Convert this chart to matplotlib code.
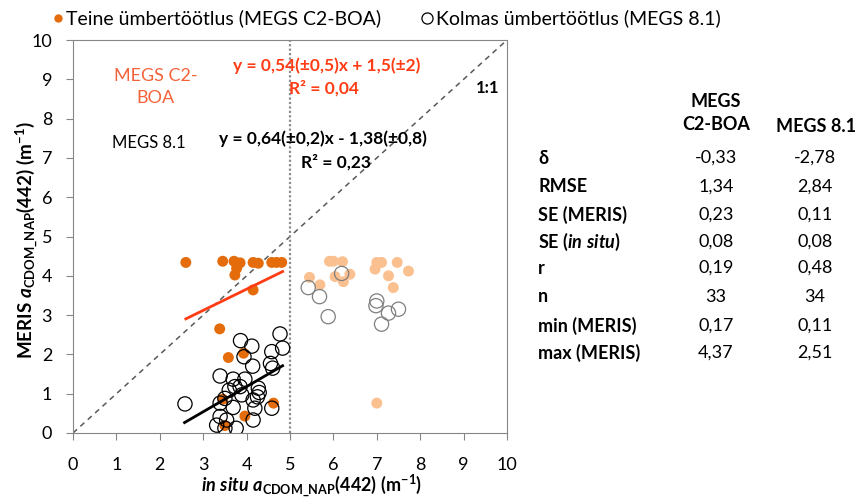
import matplotlib
matplotlib.use("Agg")
import matplotlib.pyplot as plt
from matplotlib.lines import Line2D

# MEGS C2-BOA (teine ümbertöötlus), in situ < 5
c2_x = [2.60, 3.45, 3.71, 3.77, 3.73, 3.85, 4.15, 4.27, 4.58, 4.69, 4.81, 4.15,
        3.38, 3.58, 3.93, 3.45, 4.62, 3.96, 3.50]
c2_y = [4.34, 4.37, 4.37, 4.19, 4.02, 4.33, 4.34, 4.32, 4.34, 4.34, 4.34, 3.64,
        2.65, 1.92, 2.03, 0.86, 0.76, 0.43, 0.19]
# MEGS C2-BOA, in situ > 5
c2b_x = [5.91, 6.00, 6.21, 5.45, 5.69, 6.04, 6.38, 6.23, 7.00, 7.11, 6.96, 7.47,
         7.73, 7.27, 7.38, 7.00]
c2b_y = [4.37, 4.37, 4.36, 3.96, 3.77, 3.98, 4.04, 3.85, 4.34, 4.34, 4.17, 4.34,
         4.12, 4.00, 3.70, 0.76]
# MEGS 8.1 (kolmas ümbertöötlus), in situ < 5
m81_x = [2.58, 3.86, 4.12, 3.94, 4.14, 3.39, 3.69, 3.96, 3.85, 3.73, 3.60, 3.50,
         3.39, 3.69, 3.89, 4.15, 4.27, 4.29, 4.25, 4.19, 4.15, 4.58, 4.58, 4.77,
         4.83, 4.55, 4.60, 3.39, 3.31, 3.50, 3.76, 3.54]
m81_y = [0.74, 2.35, 2.21, 1.94, 1.70, 1.45, 1.37, 1.37, 1.18, 1.18, 1.09, 0.88,
         0.76, 0.65, 0.97, 0.84, 1.14, 1.03, 0.92, 0.63, 0.33, 0.63, 2.07, 2.52,
         2.16, 1.77, 1.65, 0.42, 0.20, 0.12, 0.12, 0.33]
# MEGS 8.1, in situ > 5
m81b_x = [6.19, 5.42, 5.68, 5.88, 7.00, 6.98, 7.27, 7.50, 7.11]
m81b_y = [4.06, 3.70, 3.47, 2.96, 3.36, 3.24, 3.05, 3.15, 2.77]

# regressions: slope, intercept, x range
fit_c2 = (0.54, 1.5, 2.6, 4.83)
fit_m81 = (0.64, -1.38, 2.57, 4.83)

row_labels = ["δ", "RMSE", "SE (MERIS)", r"SE ($\mathit{in\ situ}$)", "r", "n",
              "min (MERIS)", "max (MERIS)"]
col_c2 = ["-0,33", "1,34", "0,23", "0,08", "0,19", "33", "0,17", "4,37"]
col_m81 = ["-2,78", "2,84", "0,11", "0,08", "0,48", "34", "0,11", "2,51"]

plt.rcParams['font.family'] = ['Lato', 'DejaVu Sans']
plt.rcParams['mathtext.fontset'] = 'custom'
plt.rcParams['mathtext.rm'] = 'Lato:bold'
plt.rcParams['mathtext.bf'] = 'Lato:bold'
plt.rcParams['mathtext.it'] = 'Lato:bold:italic'

dark_or = '#E46C0A'
light_or = '#FAC090'
red = '#FF3C14'
W, H = 860.0, 499.0

fig = plt.figure(figsize=(8.6, 4.99), dpi=100)
ax = fig.add_axes([0.0849, 0.1323, 0.5046, 0.7875])

ax.plot([0, 10], [0, 10], color='#595959', lw=1.1, dashes=(3.5, 3), zorder=1)
ax.plot([5, 5], [0, 10], color='#8c8c8c', lw=1.6, dashes=(1, 1), zorder=1)

ax.scatter(c2_x, c2_y, s=62, color=dark_or, edgecolors='none', zorder=2)
ax.scatter(c2b_x, c2b_y, s=62, color=light_or, edgecolors='none', zorder=2)
ax.scatter(m81_x, m81_y, s=105, facecolors='none', edgecolors='black', lw=0.9, zorder=3)
ax.scatter(m81b_x, m81b_y, s=105, facecolors='none', edgecolors='#7f7f7f', lw=0.9, zorder=3)

for (k, b, x0, x1), col in [(fit_c2, red), (fit_m81, 'black')]:
    ax.plot([x0, x1], [k * x0 + b, k * x1 + b], color=col, lw=2, zorder=4)

ax.set_xlim(0, 10)
ax.set_ylim(0, 10)
ax.set_xticks(range(11))
ax.set_yticks(range(11))
for s in ax.spines.values():
    s.set_color('#868686')
ax.tick_params(axis='x', length=5, color='#868686', pad=12, labelsize=13)
ax.tick_params(axis='y', length=5, color='#868686', pad=10, labelsize=13)

ax.set_xlabel(r'$\mathit{in\ situ\ a}_{\mathrm{CDOM\_NAP}}\mathrm{(442)\ (m^{-1})}$',
              fontsize=13)
ax.xaxis.label.set_va('baseline')
ax.xaxis.set_label_coords((312 - 73) / 434, (433 - 492) / 393)
ax.set_ylabel(r'$\mathrm{MERIS}\ \mathit{a}_{\mathrm{CDOM\_NAP}}\mathrm{(442)\ (m^{-1})}$',
              fontsize=13.5)
ax.yaxis.set_label_coords((40 - 73) / 434, 0.49)

ax.text(1.9, 8.8, "MEGS C2-\nBOA", color='#F4623A', fontsize=13, ha='center',
        va='center', linespacing=1.45)
ax.text(5.85, 9.35, "y = 0,54(±0,5)x + 1,5(±2)", color=red, fontsize=12.5,
        fontweight='bold', ha='center', va='center')
ax.text(4.98, 8.77, "R² = 0,04", color=red, fontsize=12.5, fontweight='bold',
        ha='left', va='center')
ax.text(9.55, 8.77, "1:1", color='black', fontsize=12, fontweight='bold',
        ha='center', va='center')
ax.text(1.75, 7.37, "MEGS 8.1", color='black', fontsize=12, ha='center', va='center')
ax.text(5.75, 7.5, "y = 0,64(±0,2)x - 1,38(±0,8)", color='black', fontsize=12.5,
        fontweight='bold', ha='center', va='center')
ax.text(6.05, 6.9, "R² = 0,23", color='black', fontsize=12.5, fontweight='bold',
        ha='center', va='center')

# legend above the plot
fig.add_artist(Line2D([58 / W], [1 - 18 / H], marker='o', ms=6, color=dark_or,
                      mec='none', ls='none'))
fig.text(66 / W, 1 - 18 / H, "Teine ümbertöötlus (MEGS C2-BOA)", fontsize=14,
         ha='left', va='center')
fig.add_artist(Line2D([427 / W], [1 - 18 / H], marker='o', ms=8, mfc='none',
                      mec='black', mew=0.9, ls='none'))
fig.text(436 / W, 1 - 18 / H, "Kolmas ümbertöötlus (MEGS 8.1)", fontsize=14,
         ha='left', va='center')

# table on the right
fig.text(716 / W, 1 - 113 / H, "MEGS\nC2-BOA", fontsize=13, fontweight='bold',
         ha='center', va='center', linespacing=1.4)
fig.text(816 / W, 1 - 126 / H, "MEGS 8.1", fontsize=13, fontweight='bold',
         ha='center', va='center')
row_y = [158, 187, 215, 242, 268, 297, 326, 353]
for lab, a, b, yy in zip(row_labels, col_c2, col_m81, row_y):
    fig.text(538 / W, 1 - yy / H, lab, fontsize=13, fontweight='bold', ha='left', va='center')
    fig.text(716 / W, 1 - yy / H, a, fontsize=13, ha='center', va='center')
    fig.text(815 / W, 1 - yy / H, b, fontsize=13, ha='center', va='center')

fig.savefig("out.png", dpi=100)
